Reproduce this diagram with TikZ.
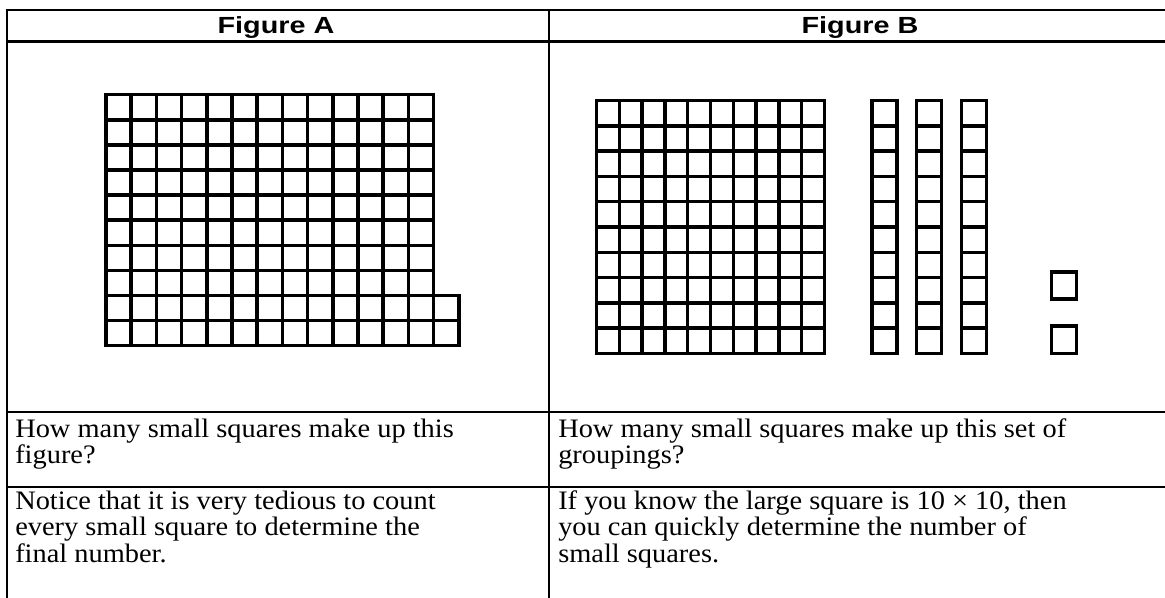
\documentclass[tikz,border=0pt]{standalone}
\usepackage{graphicx}
\usepackage{fontspec}
\setmainfont{Liberation Serif}
\newfontfamily\hdrfont{Liberation Sans}
\newcommand{\wide}[1]{\scalebox{1.235}[1]{#1}}
\newcommand{\bodywide}[1]{\scalebox{1.065}[1]{#1}}
\newcommand{\blockgrid}[6]{% x0,y0,dx,dy,ncols,nrows
  \foreach \i in {0,...,#5}{\draw[cell] ({#1+\i*#3},#2) -- ({#1+\i*#3},{#2+#6*#4});}
  \foreach \j in {0,...,#6}{\draw[cell] (#1,{#2+\j*#4}) -- ({#1+#5*#3},{#2+\j*#4});}
}
\begin{document}
\begin{tikzpicture}[x=0.75pt,y=-0.75pt,
  rule/.style={line width=2pt,line cap=rect},
  cell/.style={line width=2.6pt,line cap=rect},
  hdr/.style={inner sep=0pt,anchor=base,font=\hdrfont\bfseries\fontsize{17.5}{20}\selectfont},
  body/.style={inner sep=0pt,anchor=base west,font=\fontsize{20}{22}\selectfont}]
\useasboundingbox[fill=white] (0,0) rectangle (1165,597);
% table rules
\draw[rule] (7,10) -- (1170,10);
\draw[rule] (7,41.5) -- (1170,41.5);
\draw[rule] (7,412) -- (1170,412);
\draw[rule] (7,487) -- (1170,487);
\draw[rule] (7,10) -- (7,600);
\draw[rule] (549,10) -- (549,600);
% headers
\node[hdr] (ha) at (276,33) {\wide{Figure A}};
\node[hdr] (hb) at (860,33) {\wide{Figure B}};
% Figure A: 13 x 10 grid plus 2 squares
\blockgrid{106}{94.7}{25.2}{25.1}{13}{10}
\blockgrid{433.6}{295.5}{25.2}{25.1}{1}{2}
% Figure B: 10 x 10 square
\blockgrid{596.7}{100.7}{22.76}{25.26}{10}{10}
% three strips of ten
\blockgrid{872}{100.7}{25}{25.26}{1}{10}
\blockgrid{916.7}{100.7}{25}{25.26}{1}{10}
\blockgrid{961.7}{100.7}{25}{25.26}{1}{10}
% two single squares
\draw[cell] (1051.7,272) rectangle (1076.7,299);
\draw[cell] (1051.7,326) rectangle (1076.7,353.3);
% text
\node[body] (qa1) at (15,437) {\bodywide{How many small squares make up this}};
\node[body] (qa2) at (15,463.5) {\bodywide{figure?}};
\node[body] (qb1) at (558,437) {\bodywide{How many small squares make up this set of}};
\node[body] (qb2) at (558,463.5) {\bodywide{groupings?}};
\node[body] (na1) at (15,509) {\bodywide{Notice that it is very tedious to count}};
\node[body] (na2) at (15,535.5) {\bodywide{every small square to determine the}};
\node[body] (na3) at (15,562) {\bodywide{final number.}};
\node[body] (nb1) at (558,509) {\bodywide{If you know the large square is 10 × 10, then}};
\node[body] (nb2) at (558,535.5) {\bodywide{you can quickly determine the number of}};
\node[body] (nb3) at (558,562) {\bodywide{small squares.}};
\end{tikzpicture}
\end{document}
